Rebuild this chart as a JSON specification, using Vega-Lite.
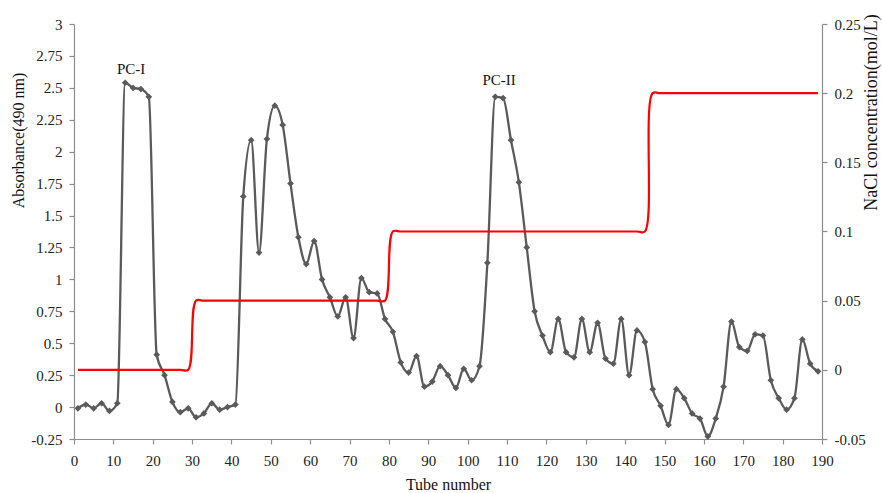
{
  "$schema": "https://vega.github.io/schema/vega-lite/v6.json",
  "width": 748,
  "height": 415,
  "autosize": {"type": "none"},
  "padding": {"left": 74, "top": 24, "right": 60, "bottom": 54},
  "background": "white",
  "config": {
    "view": {"stroke": null},
    "font": "Liberation Serif",
    "axis": {
      "labelFont": "Liberation Serif",
      "titleFont": "Liberation Serif",
      "labelFontSize": 15,
      "titleFontSize": 16,
      "titleFontWeight": "normal",
      "labelColor": "#222222",
      "titleColor": "#111111",
      "domainColor": "#8c8c8c",
      "tickColor": "#8c8c8c",
      "domainWidth": 1.2,
      "tickWidth": 1.2,
      "tickSize": 5,
      "grid": false,
      "labelOverlap": false,
      "labelBound": false,
      "labelFlush": false
    }
  },
  "datasets": {
    "abs": [
      {"tube": 1, "abs": -0.01}, {"tube": 3, "abs": 0.02}, {"tube": 5, "abs": -0.01}, {"tube": 7, "abs": 0.03},
      {"tube": 9, "abs": -0.03}, {"tube": 11, "abs": 0.03}, {"tube": 13, "abs": 2.54}, {"tube": 15, "abs": 2.5},
      {"tube": 17, "abs": 2.49}, {"tube": 19, "abs": 2.43}, {"tube": 21, "abs": 0.41}, {"tube": 23, "abs": 0.25},
      {"tube": 25, "abs": 0.04}, {"tube": 27, "abs": -0.04}, {"tube": 29, "abs": -0.01}, {"tube": 31, "abs": -0.08},
      {"tube": 33, "abs": -0.05}, {"tube": 35, "abs": 0.03}, {"tube": 37, "abs": -0.02}, {"tube": 39, "abs": 0.0},
      {"tube": 41, "abs": 0.02}, {"tube": 43, "abs": 1.65}, {"tube": 45, "abs": 2.09}, {"tube": 47, "abs": 1.21},
      {"tube": 49, "abs": 2.1}, {"tube": 51, "abs": 2.36}, {"tube": 53, "abs": 2.21}, {"tube": 55, "abs": 1.75},
      {"tube": 57, "abs": 1.33}, {"tube": 59, "abs": 1.12}, {"tube": 61, "abs": 1.3}, {"tube": 63, "abs": 1.0},
      {"tube": 65, "abs": 0.86}, {"tube": 67, "abs": 0.71}, {"tube": 69, "abs": 0.86}, {"tube": 71, "abs": 0.54},
      {"tube": 73, "abs": 1.01}, {"tube": 75, "abs": 0.9}, {"tube": 77, "abs": 0.89}, {"tube": 79, "abs": 0.69},
      {"tube": 81, "abs": 0.59}, {"tube": 83, "abs": 0.35}, {"tube": 85, "abs": 0.27}, {"tube": 87, "abs": 0.4},
      {"tube": 89, "abs": 0.16}, {"tube": 91, "abs": 0.2}, {"tube": 93, "abs": 0.32}, {"tube": 95, "abs": 0.25},
      {"tube": 97, "abs": 0.15}, {"tube": 99, "abs": 0.3}, {"tube": 101, "abs": 0.21}, {"tube": 103, "abs": 0.32},
      {"tube": 105, "abs": 1.13}, {"tube": 107, "abs": 2.43}, {"tube": 109, "abs": 2.42}, {"tube": 111, "abs": 2.09},
      {"tube": 113, "abs": 1.76}, {"tube": 115, "abs": 1.25}, {"tube": 117, "abs": 0.75}, {"tube": 119, "abs": 0.56},
      {"tube": 121, "abs": 0.43}, {"tube": 123, "abs": 0.69}, {"tube": 125, "abs": 0.43}, {"tube": 127, "abs": 0.39},
      {"tube": 129, "abs": 0.69}, {"tube": 131, "abs": 0.43}, {"tube": 133, "abs": 0.66}, {"tube": 135, "abs": 0.38},
      {"tube": 137, "abs": 0.34}, {"tube": 139, "abs": 0.69}, {"tube": 141, "abs": 0.25}, {"tube": 143, "abs": 0.6},
      {"tube": 145, "abs": 0.51}, {"tube": 147, "abs": 0.14}, {"tube": 149, "abs": 0.01}, {"tube": 151, "abs": -0.14},
      {"tube": 153, "abs": 0.14}, {"tube": 155, "abs": 0.07}, {"tube": 157, "abs": -0.05}, {"tube": 159, "abs": -0.09},
      {"tube": 161, "abs": -0.23}, {"tube": 163, "abs": -0.09}, {"tube": 165, "abs": 0.16}, {"tube": 167, "abs": 0.67},
      {"tube": 169, "abs": 0.47}, {"tube": 171, "abs": 0.44}, {"tube": 173, "abs": 0.57}, {"tube": 175, "abs": 0.56},
      {"tube": 177, "abs": 0.21}, {"tube": 179, "abs": 0.07}, {"tube": 181, "abs": -0.02}, {"tube": 183, "abs": 0.07},
      {"tube": 185, "abs": 0.53}, {"tube": 187, "abs": 0.34}, {"tube": 189, "abs": 0.28}
    ],
    "nacl": [
      {"tube": 1, "nacl": 0}, {"tube": 27, "nacl": 0}, {"tube": 29, "nacl": 0}, {"tube": 31, "nacl": 0.05},
      {"tube": 33, "nacl": 0.05}, {"tube": 77, "nacl": 0.05}, {"tube": 79, "nacl": 0.05}, {"tube": 81, "nacl": 0.1},
      {"tube": 83, "nacl": 0.1}, {"tube": 143, "nacl": 0.1}, {"tube": 145, "nacl": 0.1}, {"tube": 147, "nacl": 0.2},
      {"tube": 149, "nacl": 0.2}, {"tube": 189, "nacl": 0.2}
    ],
    "labels": [
      {"tube": 14.5, "abs": 2.65, "label": "PC-I"},
      {"tube": 108, "abs": 2.56, "label": "PC-II"}
    ]
  },
  "encoding": {
    "x": {"field": "tube", "type": "quantitative", "scale": {"domain": [0, 190], "nice": false},
      "axis": {"values": [0,10,20,30,40,50,60,70,80,90,100,110,120,130,140,150,160,170,180,190],
        "labelExpr": "datum.value + ''", "labelOverlap": false, "labelBound": false, "labelFlush": false,
        "title": "Tube number", "labelPadding": 9, "titlePadding": 8}}
  },
  "layer": [
    {
      "encoding": {
        "y": {"field": "abs", "type": "quantitative", "scale": {"domain": [-0.25, 3], "nice": false, "zero": false},
          "axis": {"values": [-0.25,0,0.25,0.5,0.75,1,1.25,1.5,1.75,2,2.25,2.5,2.75,3],
            "labelExpr": "datum.value + ''", "labelOverlap": false, "labelBound": false, "labelFlush": false,
            "title": "Absorbance(490 nm)", "labelPadding": 7, "titleX": -56, "titleY": 116,
            "titleAngle": 270, "titleAlign": "center", "titleBaseline": "middle"}}
      },
      "layer": [
        {
          "data": {"name": "abs"},
          "mark": {"type": "line", "interpolate": "monotone", "color": "#5a5a5a", "strokeWidth": 2.3,
            "point": {"shape": "diamond", "filled": true, "color": "#5a5a5a", "size": 45, "opacity": 1}}
        },
        {
          "data": {"name": "labels"},
          "mark": {"type": "text", "font": "Liberation Serif", "fontSize": 15, "color": "#111111", "align": "center", "baseline": "middle"},
          "encoding": {
            "text": {"field": "label"}
          }
        }
      ]
    },
    {
      "data": {"name": "nacl"},
      "mark": {"type": "line", "interpolate": "catmull-rom", "color": "#ff0000", "strokeWidth": 2.2},
      "encoding": {
        "y": {"field": "nacl", "type": "quantitative", "scale": {"domain": [-0.05, 0.25], "nice": false, "zero": false},
          "axis": {"orient": "right", "values": [-0.05,0,0.05,0.1,0.15,0.2,0.25],
            "labelExpr": "datum.value + ''", "labelOverlap": false, "labelBound": false, "labelFlush": false,
            "title": "NaCl concentration(mol/L)", "titleFontSize": 18, "labelPadding": 7, "titleX": 49, "titleY": 88,
            "titleAngle": 270, "titleAlign": "center", "titleBaseline": "middle"}}
      }
    }
  ],
  "resolve": {"scale": {"y": "independent"}}
}
